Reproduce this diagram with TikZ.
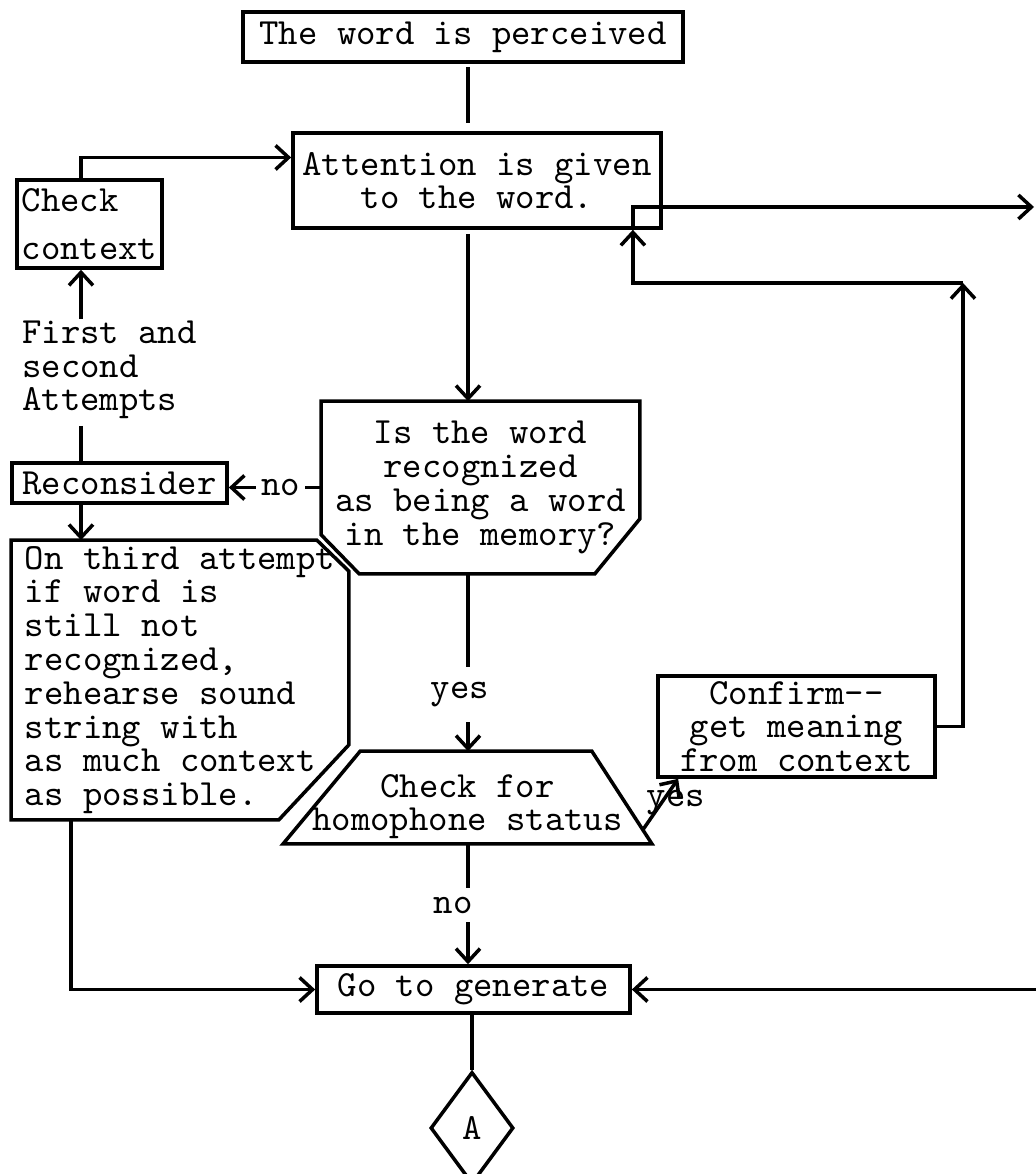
\documentclass[tikz,border=0pt]{standalone}
\usepackage{fontspec}
\usetikzlibrary{shapes.geometric, arrows.meta, positioning, calc}

\tikzset{
  box/.style={draw, rectangle, inner sep=0pt, align=center},
  shell/.style={rectangle, inner sep=0pt, align=center},
  lbl/.style={fill=white, inner sep=1.5pt},
  >={Straight Barb[length=1.3mm,width=2.4mm]}
}

\begin{document}
\begin{tikzpicture}[x=0.01cm, y=-0.01cm, line width=1pt,
    font=\ttfamily\fontsize{10.5}{9.6}\selectfont]
    \useasboundingbox (0,0) rectangle (1035,1174);
    \coordinate (spine) at (468,0);
    \coordinate (lspine) at (81,0);
    \coordinate (rloop) at (963,283);
    \coordinate (offtop) at (1034,207);
    \coordinate (offbot) at (1040,0);

    % Main column
    \node[box, minimum width=4.4cm, minimum height=0.5cm] (per) at (463,37) {The word is perceived};
    \node[box, minimum width=3.68cm, minimum height=0.95cm] (att) at (477,180.5) {Attention is given\\to the word.};
    \node[shell, minimum width=3.15cm, minimum height=1.69cm] (q) at (480.5,487.5)
        {Is the word\\recognized\\as being a word\\in the memory?};
    \draw (q.north west) -- (q.north east) -- ($(q.south east)+(0,-55)$) -- ($(q.south east)+(-45,0)$)
        -- ($(q.south west)+(38,0)$) -- ($(q.south west)+(0,-39)$) -- cycle;
    \node[shell, minimum width=3.65cm, minimum height=0.89cm,
        label={[name=traptxt, align=center, inner sep=0pt, yshift=-0.09cm]center:{Check for\\homophone status}}] (trap) at (467.5,797.5) {};
    \draw ($(trap.north west)+(77,0)$) -- ($(trap.north east)+(-60,0)$) -- (trap.south east) -- (trap.south west) -- cycle;
    \node[box, minimum width=3.13cm, minimum height=0.47cm] (go) at (473.5,989.5) {Go to generate};
    \node[draw, diamond, minimum width=0.83cm, minimum height=1.12cm, inner sep=0pt] (A) at (472,1128) {A};

    % Left column
    \node[box, minimum width=1.45cm, minimum height=0.88cm, align=left] (chk) at (89.5,224) {Check\\[0.14cm]context};
    \node[shell, align=left] (tries) at (109.5,370) {First and\\second\\Attempts};
    \node[box, minimum width=2.15cm, minimum height=0.4cm] (rec) at (119.5,483) {Reconsider};
    \node[shell, minimum width=3.34cm, minimum height=2.76cm, align=left] (third) at (180,680)
        {On third attempt\\if word is\\still not\\recognized,\\rehearse sound\\string with\\as much context\\as possible.};
    \draw (third.north west) -- ($(third.north east)+(-32,0)$) -- ($(third.north east)+(0,31)$)
        -- ($(third.south east)+(0,-75)$) -- ($(third.south east)+(-70,0)$) -- (third.south west) -- cycle;

    % Right side
    \node[box, minimum width=2.77cm, minimum height=1.01cm] (cfm) at (796.5,726.5) {Confirm-{}-\\get meaning\\from context};

    % Connectors
    \draw[shorten <=0.03cm, shorten >=0.08cm] (per.south -| spine) -- (att.north -| spine);
    \draw[->, shorten <=0.04cm] (att.south -| spine) -- (q.north -| spine);
    \draw[->] (chk.north -| lspine) |- ([yshift=0.23cm]att.west);
    \draw[->] (tries.north -| lspine) -- (chk.south -| lspine);
    \draw[shorten <=0.05cm] (tries.south -| lspine) -- (rec.north -| lspine);
    \draw[->] (rec.south -| lspine) -- (third.north -| lspine);
    \draw[->] (q.west) -- node[lbl, pos=0.44] {no} (q.west -| rec.east);
    \draw[->] (q.south -| spine) -- node[lbl, pos=0.68, inner ysep=0.15cm, xshift=-0.08cm] {yes} (trap.north -| spine);
    \draw[->] ($(trap.south east)+(-9,-14)$) -- node[pos=0.6, xshift=0.12cm, yshift=-0.03cm, inner sep=0pt] {yes} ($(cfm.south west)+(22,0)$);
    \draw[->] (cfm.east) -| (rloop);
    \draw[->] (rloop) -| ($(att.south east)+(-30,0)$);
    \draw[->] ($(att.south east)+(-30,0)$) |- (offtop);
    \draw[->] (trap.south -| spine) -- node[lbl, pos=0.51, inner ysep=0.09cm, xshift=-0.15cm] {no} (go.north -| spine);
    \draw[->] ($(third.south west)+(60,0)$) |- (go.west);
    \draw[->] (go.east -| offbot) -- (go.east);
    \draw (go.south -| A.north) -- (A.north);
\end{tikzpicture}
\end{document}
